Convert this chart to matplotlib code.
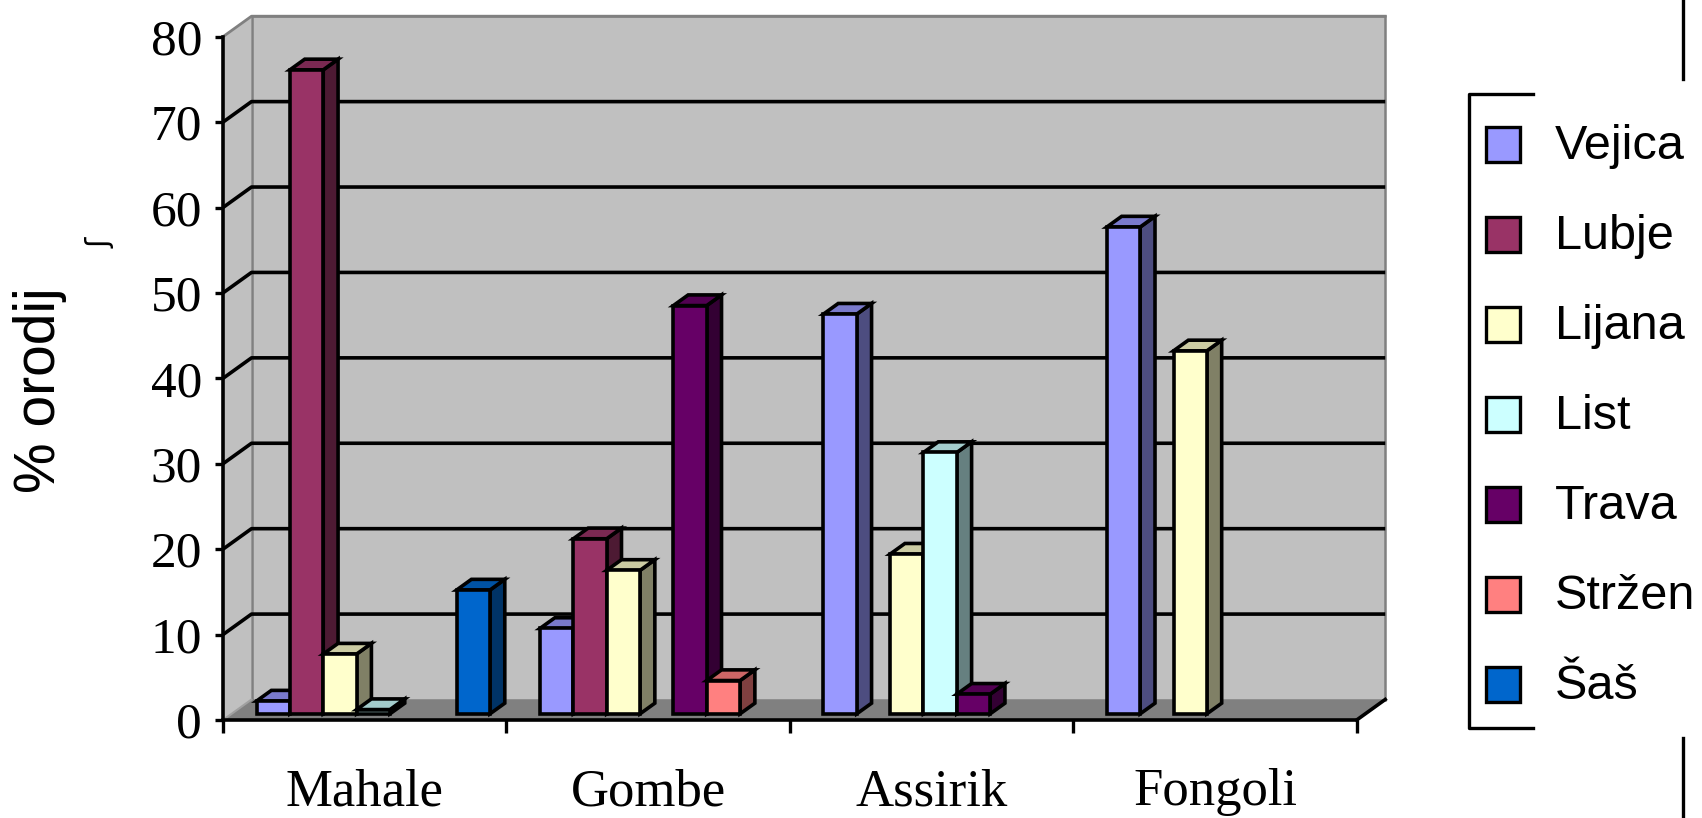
import numpy as np
import matplotlib
matplotlib.use("Agg")
import matplotlib.pyplot as plt
from matplotlib.patches import Rectangle, Polygon

categories = ["Mahale", "Gombe", "Assirik", "Fongoli"]
series = ["Vejica", "Lubje", "Lijana", "List", "Trava", "Stržen", "Šaš"]
nan = np.nan
vejica = [1.5, 10.0, 46.8, 57.0]
lubje = [75.4, 20.5, nan, nan]
lijana = [7.0, 16.8, 18.7, 42.5]
list_ = [0.5, nan, 30.6, nan]
trava = [nan, 47.8, 2.3, nan]
strzen = [nan, 3.9, nan, nan]
sas = [14.5, nan, nan, nan]
values = [vejica, lubje, lijana, list_, trava, strzen, sas]
colors = ["#9999FF", "#993366", "#FFFFCC", "#CCFFFF", "#660066", "#FF8080", "#0066CC"]
y_ticks = list(range(0, 81, 10))

W, H = 1702, 818
fig = plt.figure(figsize=(W / 100, H / 100), dpi=100)
fig.patch.set_facecolor("white")

# front plane of the box in pixels
left, right, zero, top = 223.0, 1356.7, 720.0, 36.7
ax = fig.add_axes([left / W, 1 - zero / H, (right - left) / W, (zero - top) / H])
ax.set_xlim(0, 4)
ax.set_ylim(0, 80)
ax.patch.set_visible(False)

# depth of the box expressed in data units
dx = 28.5 / ((right - left) / 4)
dy = 20.5 / ((zero - top) / 80)

wall = "#C0C0C0"
edge = "#808080"
ax.add_patch(Polygon([(0, 0), (4, 0), (4 + dx, dy), (dx, dy)], closed=True,
                     fc="#808080", ec="none", zorder=0.5, clip_on=False))
ax.add_patch(Polygon([(0, 0), (dx, dy), (dx, 80 + dy), (0, 80)], closed=True,
                     fc=wall, ec="none", zorder=0.5, clip_on=False))
ax.add_patch(Rectangle((dx, dy), 4, 80, fc=wall, ec=edge, lw=1.8, zorder=0.6, clip_on=False))

for v in y_ticks[1:-1]:
    ax.plot([0, dx, 4 + dx], [v, v + dy, v + dy], color="black", lw=2.6,
            zorder=1, clip_on=False, solid_capstyle="butt")
ax.plot([0, dx, 4 + dx], [80, 80 + dy, 80 + dy], color=edge, lw=2.0, zorder=1, clip_on=False)
ax.plot([0, dx], [0, dy], color="#A0A0A0", lw=1.5, zorder=1, clip_on=False)
ax.plot([4, 4 + dx], [0, dy], color="black", lw=2.6, zorder=1, clip_on=False)

# bars drawn as front face + top + side
slot = 1 / 8.5
front_d, bar_d = 0.3, 0.52
bx, by = bar_d * dx, bar_d * dy


def shade(c, f):
    r, g, b = matplotlib.colors.to_rgb(c)
    return (r * f, g * f, b * f)


for s, (vals, col) in enumerate(zip(values, colors)):
    vals = np.array(vals, dtype=float)
    idx = np.where(~np.isnan(vals))[0]
    x0 = idx + 0.75 * slot + s * slot + front_d * dx
    y0 = front_d * dy
    z = 3 + s
    for x, v in zip(x0, vals[idx]):
        ax.add_patch(Polygon([(x + slot, y0), (x + slot + bx, y0 + by),
                              (x + slot + bx, y0 + v + by), (x + slot, y0 + v)],
                             closed=True, fc=shade(col, 0.5), ec="black", lw=2.6,
                             joinstyle="miter", zorder=z - 0.2, clip_on=False))
        ax.add_patch(Polygon([(x, y0 + v), (x + slot, y0 + v),
                              (x + slot + bx, y0 + v + by), (x + bx, y0 + v + by)],
                             closed=True, fc=shade(col, 0.8), ec="black", lw=2.6,
                             joinstyle="miter", zorder=z - 0.1, clip_on=False))
    ax.bar(x0, vals[idx], width=slot, bottom=y0, align="edge", color=col,
           edgecolor="black", linewidth=2.6, zorder=z, clip_on=False)

for side in ["top", "right"]:
    ax.spines[side].set_visible(False)
for side in ["left", "bottom"]:
    ax.spines[side].set_linewidth(2.6)
    ax.spines[side].set_zorder(20)

ax.set_yticks(y_ticks)
ax.tick_params(axis="y", direction="out", length=6, width=2.4, pad=9,
               labelsize=37, labelfontfamily="Liberation Serif")
ax.set_xticks(range(5))
ax.set_xticklabels([])
ax.tick_params(axis="x", direction="out", length=9, width=2.4)

for c, name in enumerate(categories):
    ax.text(c + 0.5, -85 / ((zero - top) / 80), name, ha="center", va="baseline",
            fontsize=38, family="Liberation Serif", clip_on=False)

# overlay in pixel coordinates for the legend and the axis title
ov = fig.add_axes([0, 0, 1, 1])
ov.set_xlim(0, W)
ov.set_ylim(H, 0)
ov.set_axis_off()

ov.text(40, 390, "% orodij", rotation=90, ha="center", va="center",
        fontsize=41, family="Liberation Sans")
ov.text(100, 243, "ʃ", rotation=90, ha="center", va="center", fontsize=22,
        family="DejaVu Sans")

for i, (name, col) in enumerate(zip(series, colors)):
    cy = 144 + 90 * i
    ov.add_patch(Rectangle((1486, cy - 17.5), 34, 35, fc=col, ec="black", lw=2.4))
    ov.text(1555, cy + 14.6, name, ha="left", va="baseline", fontsize=35,
            family="Liberation Sans")

ov.plot([1533, 1469, 1469, 1533], [94.3, 94.3, 728.3, 728.3], color="black", lw=2.4)
ov.plot([1683.3, 1683.3], [0, 79], color="black", lw=2.4)
ov.plot([1683.3, 1683.3], [737.7, 818], color="black", lw=2.4)

fig.savefig("out.png", dpi=100)
